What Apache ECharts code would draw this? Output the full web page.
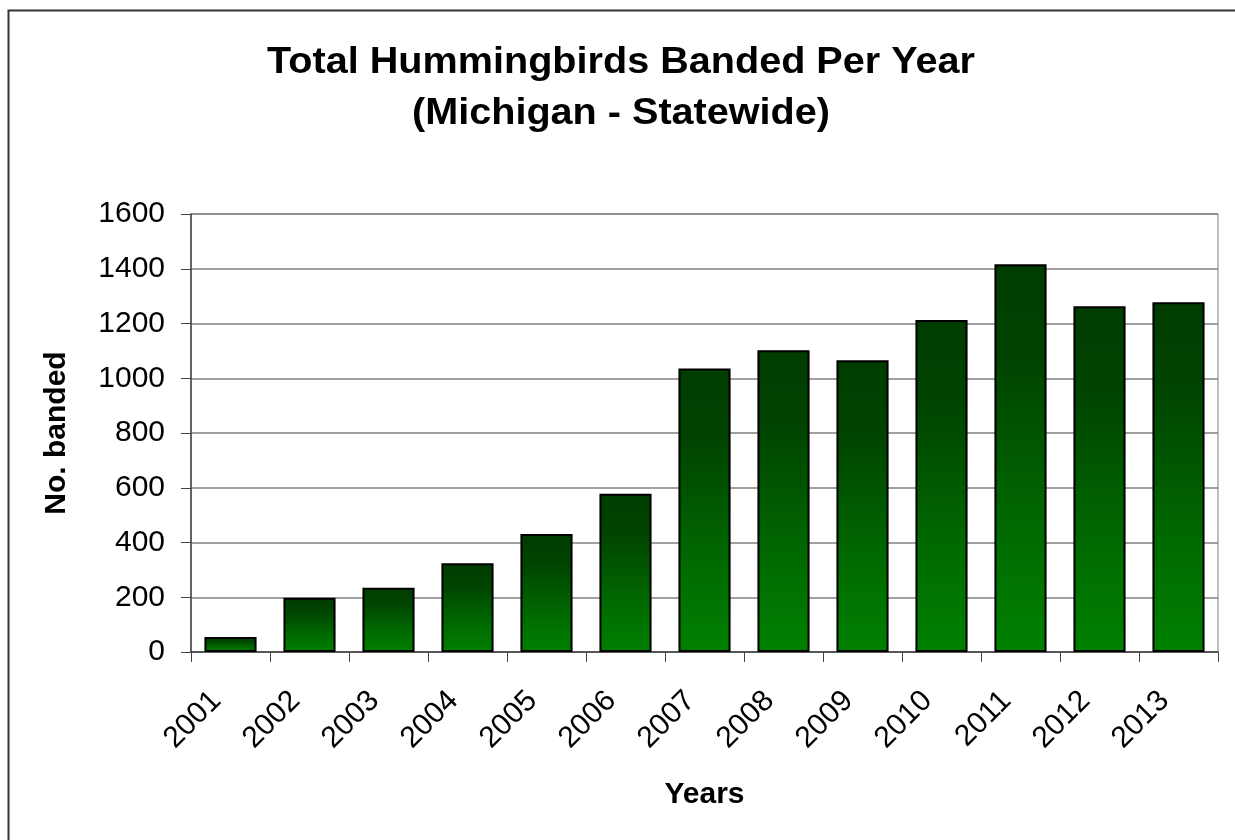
<!DOCTYPE html>
<html><head><meta charset="utf-8">
<script src="https://cdn.jsdelivr.net/npm/echarts@6/dist/echarts.min.js"></script>
<style>html,body{margin:0;padding:0;background:#fff}#c{width:1235px;height:840px}</style>
</head><body><div id="c"></div>
<script>
var years = ['2001','2002','2003','2004','2005','2006','2007','2008','2009','2010','2011','2012','2013'];
var banded = [55, 198, 235, 324, 431, 578, 1036, 1102, 1066, 1213, 1416, 1263, 1278];
var yTicks = [0, 200, 400, 600, 800, 1000, 1200, 1400, 1600];
var titleLines = ['Total Hummingbirds Banded Per Year', '(Michigan - Statewide)'];

var font = '"Liberation Sans", Arial, sans-serif';
var chart = echarts.init(document.getElementById('c'), null, {renderer: 'canvas'});

function titleText(str, y) {
  return {
    type: 'text', x: 621, y: y, scaleX: 1.1,
    style: {text: str, align: 'center', verticalAlign: 'middle',
      fontFamily: font, fontWeight: 'bold', fontSize: 36, fill: '#000'}
  };
}

chart.setOption({
  animation: false,
  backgroundColor: '#fff',
  graphic: [
    {type: 'rect', shape: {x: 8.5, y: 10.5, width: 1300, height: 900},
     style: {fill: 'none', stroke: '#333', lineWidth: 2}, z: -1},
    titleText(titleLines[0], 63),
    titleText(titleLines[1], 114)
  ],
  grid: {left: 191, right: 17, top: 214, bottom: 188, show: true, borderColor: '#808080', borderWidth: 1},
  xAxis: {
    type: 'category', data: years,
    name: 'Years', nameLocation: 'middle', nameGap: 128,
    nameTextStyle: {fontFamily: font, fontWeight: 'bold', fontSize: 30, color: '#000'},
    axisLine: {lineStyle: {color: '#444', width: 1.5}},
    axisTick: {show: true, length: 10, alignWithLabel: false, lineStyle: {color: '#444'}},
    axisLabel: {rotate: 45, margin: 30, padding: [0, 20, 0, 0], fontFamily: font, fontSize: 30, color: '#000'}
  },
  yAxis: {
    type: 'value', min: 0, max: 1600, interval: 200,
    name: 'No. banded', nameLocation: 'middle', nameGap: 119, nameRotate: 90,
    nameTextStyle: {fontFamily: font, fontWeight: 'bold', fontSize: 30, color: '#000'},
    axisLine: {show: true, lineStyle: {color: '#444', width: 1.5}},
    axisTick: {show: true, length: 10, lineStyle: {color: '#444'}},
    axisLabel: {margin: 26, fontFamily: font, fontSize: 30, color: '#000',
      formatter: function (v) { return yTicks.indexOf(v) >= 0 ? String(v) : ''; }},
    splitLine: {show: true, lineStyle: {color: '#808080', width: 1.5}}
  },
  series: [{
    type: 'bar', data: banded, barCategoryGap: '34%',
    itemStyle: {
      borderColor: '#000', borderWidth: 2,
      color: new echarts.graphic.LinearGradient(0, 0, 0, 1, [
        {offset: 0, color: '#003c00'},
        {offset: 0.25, color: '#004400'},
        {offset: 0.7, color: '#006b00'},
        {offset: 1, color: '#008000'}
      ])
    }
  }]
});
</script></body></html>
